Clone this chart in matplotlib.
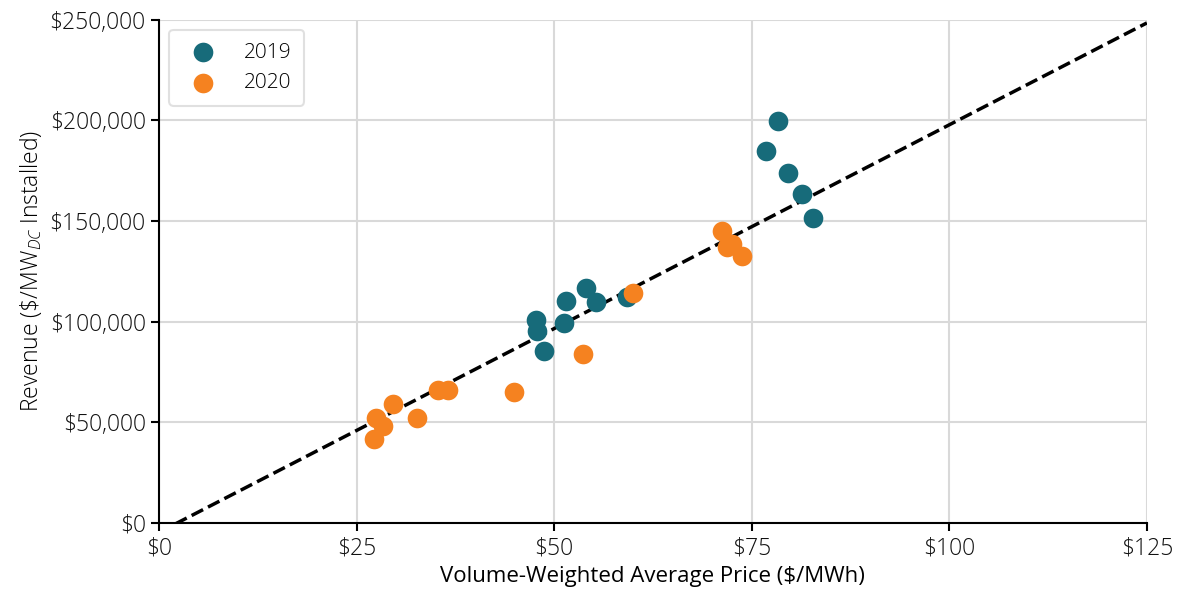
import matplotlib.pyplot as plt
from matplotlib.ticker import FuncFormatter

plt.rcParams['font.family'] = ['Open Sans', 'DejaVu Sans']
plt.rcParams['font.weight'] = 'light'
plt.rcParams['mathtext.fontset'] = 'custom'
plt.rcParams['mathtext.it'] = 'Open Sans:italic:weight=light'
plt.rcParams['mathtext.rm'] = 'Open Sans:weight=light'
plt.rcParams['mathtext.default'] = 'rm'

# 2019 projects: price ($/MWh), revenue ($/MW-dc)
price_2019 = [78.3, 76.8, 79.6, 81.4, 82.7, 47.7, 47.8, 48.7, 51.5, 51.2, 54.0, 55.3, 59.2]
rev_2019 = [199800, 184900, 174000, 163500, 151600, 100900, 95400, 85500, 110300, 99400, 116800, 109800, 112300]

# 2020 projects
price_2020 = [60.0, 53.6, 44.9, 35.3, 36.6, 29.6, 32.6, 27.5, 28.4, 27.2, 71.3, 71.9, 72.5, 73.8]
rev_2020 = [114100, 83800, 65000, 66100, 65800, 59100, 52300, 52000, 48200, 41600, 145100, 137200, 138700, 132400]

# fit line
fit_x = [0, 125]
fit_slope = 2025
fit_intercept = -4700

fig, ax = plt.subplots(figsize=(11.86, 5.99), dpi=100)
fig.subplots_adjust(left=0.134, right=0.967, bottom=0.127, top=0.967)

ax.plot(fit_x, [fit_slope * x + fit_intercept for x in fit_x], '--', color='black', lw=2.5, zorder=2)
ax.scatter(price_2019, rev_2019, s=200, color='#176b7a', label='2019', zorder=3, linewidths=0)
ax.scatter(price_2020, rev_2020, s=200, color='#f58220', label='2020', zorder=3, linewidths=0)

ax.set_xlim(0, 125)
ax.set_ylim(0, 250000)
ax.set_xticks([0, 25, 50, 75, 100, 125])
ax.set_yticks(range(0, 250001, 50000))
ax.xaxis.set_major_formatter(FuncFormatter(lambda v, p: f'${v:,.0f}'))
ax.yaxis.set_major_formatter(FuncFormatter(lambda v, p: f'${v:,.0f}'))
ax.tick_params(labelsize=16.5, length=6, width=1.5, color='black', labelcolor='#111111')
ax.grid(True, color='#d9d9d9', lw=1.5, zorder=0)
ax.set_axisbelow(True)
for s in ['top', 'right']:
    ax.spines[s].set_visible(False)
for s in ['left', 'bottom']:
    ax.spines[s].set_linewidth(1.5)

ax.set_xlabel('Volume-Weighted Average Price ($/MWh)', fontsize=16)
ax.set_ylabel(r'Revenue (\$/MW$_{\mathit{DC}}$ Installed)', fontsize=16.5, fontweight='light')

leg = ax.legend(loc='upper left', fontsize=15, frameon=True, markerscale=1.0,
                borderpad=0.6, handletextpad=1.0, labelspacing=0.5)
leg.get_frame().set_edgecolor('#d9d9d9')
leg.get_frame().set_linewidth(1.5)

plt.savefig('out.png')
